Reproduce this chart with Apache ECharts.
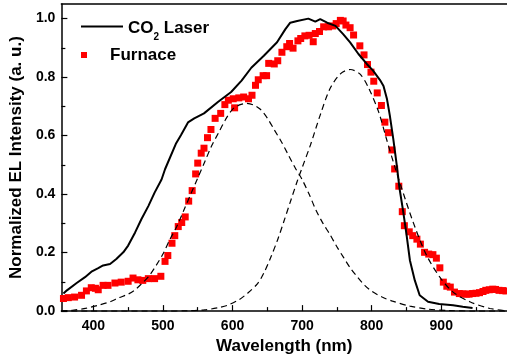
<!DOCTYPE html>
<html><head><meta charset="utf-8">
<script src="https://cdn.jsdelivr.net/npm/echarts@6/dist/echarts.min.js"></script>
<style>html,body{margin:0;padding:0;background:#fff}#c{width:507px;height:360px}</style>
</head><body><div id="c"></div>
<script>
// ---- data (wavelength nm, normalized intensity) ----
var xTickLabels = [400, 500, 600, 700, 800, 900];
var xMinorTicks = [450, 550, 650, 750, 850, 950];
var yTickLabels = [0.0, 0.2, 0.4, 0.6, 0.8, 1.0];
var yMinorTicks = [0.1, 0.3, 0.5, 0.7, 0.9];

var co2Laser = [[357,0.06],[362,0.071],[376,0.096],[388,0.116],[398,0.136],[407,0.147],[414,0.156],[424,0.161],[433,0.178],[443,0.201],[450,0.224],[460,0.269],[469,0.314],[479,0.359],[488,0.405],[498,0.45],[503,0.485],[519,0.574],[526,0.602],[536,0.645],[545,0.659],[559,0.676],[579,0.715],[598,0.749],[613,0.788],[627,0.832],[645,0.873],[664,0.919],[676,0.964],[683,0.986],[693,0.992],[709,1.0],[719,0.99],[726,0.998],[736,0.986],[748,0.975],[759,0.947],[769,0.919],[781,0.879],[793,0.845],[802,0.822],[812,0.79],[817,0.77],[822,0.725],[826,0.67],[831,0.59],[836,0.50],[840,0.42],[845,0.345],[850,0.263],[855,0.173],[862,0.105],[869,0.054],[881,0.032],[897,0.024],[917,0.02],[931,0.015],[945,0.011]];

var furnace = [[357,0.043],[364,0.046],[373,0.048],[383,0.054],[390,0.069],[397,0.08],[403,0.078],[407,0.073],[414,0.088],[421,0.088],[431,0.096],[440,0.099],[450,0.102],[457,0.113],[464,0.107],[471,0.105],[479,0.111],[488,0.111],[497,0.119],[503,0.17],[507,0.19],[513,0.232],[517,0.258],[522,0.289],[527,0.303],[532,0.322],[537,0.376],[542,0.412],[547,0.469],[550,0.506],[555,0.54],[559,0.557],[564,0.593],[569,0.621],[575,0.659],[583,0.676],[589,0.706],[594,0.721],[601,0.726],[603,0.695],[609,0.729],[616,0.732],[623,0.726],[628,0.738],[633,0.772],[637,0.791],[644,0.805],[649,0.805],[652,0.847],[660,0.845],[665,0.856],[671,0.885],[678,0.904],[682,0.915],[687,0.899],[694,0.924],[698,0.932],[704,0.941],[710,0.943],[716,0.921],[719,0.949],[725,0.956],[731,0.972],[738,0.972],[744,0.975],[749,0.983],[755,0.994],[759,0.992],[763,0.978],[769,0.969],[774,0.944],[783,0.907],[789,0.876],[794,0.843],[799,0.817],[803,0.786],[808,0.746],[814,0.703],[819,0.646],[824,0.61],[829,0.551],[833,0.486],[839,0.427],[844,0.34],[847,0.292],[854,0.271],[859,0.258],[865,0.246],[870,0.229],[876,0.201],[882,0.195],[888,0.193],[893,0.181],[898,0.148],[903,0.099],[908,0.085],[913,0.082],[919,0.065],[926,0.06],[931,0.059],[936,0.058],[940,0.058],[945,0.06],[950,0.061],[955,0.063],[960,0.067],[964,0.071],[969,0.073],[974,0.075],[978,0.074],[983,0.071],[988,0.07],[993,0.069]];

var fitPeak1 = [[354,0.0],[370,0.003],[390,0.01],[407,0.02],[425,0.033],[436,0.045],[450,0.058],[460,0.073],[470,0.095],[480,0.12],[490,0.155],[500,0.195],[510,0.245],[520,0.29],[530,0.345],[540,0.40],[550,0.455],[560,0.51],[570,0.565],[580,0.61],[590,0.655],[600,0.69],[610,0.705],[620,0.71],[630,0.705],[640,0.69],[650,0.66],[660,0.62],[670,0.58],[680,0.535],[690,0.49],[700,0.45],[710,0.40],[720,0.345],[730,0.30],[740,0.262],[750,0.22],[760,0.182],[770,0.145],[780,0.115],[790,0.088],[800,0.068],[815,0.048],[830,0.034],[855,0.017],[880,0.007],[910,0.002],[950,0.0],[994,0.0]];

var fitPeak2 = [[354,0.0],[500,0.0],[536,0.001],[560,0.004],[580,0.012],[593,0.02],[610,0.04],[621,0.06],[636,0.094],[645,0.13],[655,0.184],[665,0.245],[674,0.308],[684,0.38],[693,0.444],[700,0.49],[712,0.568],[726,0.67],[740,0.76],[755,0.811],[769,0.826],[783,0.811],[795,0.766],[810,0.681],[821,0.591],[833,0.495],[843,0.421],[859,0.308],[878,0.195],[898,0.116],[917,0.065],[941,0.032],[970,0.009],[994,0.001]];

var FONT = "'Liberation Sans', Arial, sans-serif";
var chart = echarts.init(document.getElementById('c'), null, {renderer: 'canvas'});
var xMin = 354, xMax = 994.5, yMin = 0, yMax = 1.05;

chart.setOption({
  animation: false,
  backgroundColor: '#fff',
  grid: {left: 59, right: 0, top: 4, bottom: 46},
  legend: [
    {
      data: [{name: 'CO2 Laser', icon: 'path://M0,0L42,0L42,2L0,2Z'}],
      left: 81, top: 16, padding: 0,
      itemWidth: 42, itemHeight: 14,
      formatter: function () { return '{a|CO}{s|2}{a| Laser}'; },
      textStyle: {
        rich: {
          a: {fontFamily: FONT, fontWeight: 'bold', fontSize: 17, color: '#000', lineHeight: 32, padding: [4, 0, 0, 0]},
          s: {fontFamily: FONT, fontWeight: 'bold', fontSize: 10, color: '#000', lineHeight: 6, verticalAlign: 'bottom'}
        }
      }
    },
    {
      data: [{name: 'Furnace', icon: 'path://M0,0L10,0L10,10L0,10Z'}],
      left: 81, top: 45, padding: 0,
      itemWidth: 42, itemHeight: 6,
      textStyle: {fontFamily: FONT, fontWeight: 'bold', fontSize: 17, color: '#000', lineHeight: 20}
    }
  ],
  xAxis: [
    {
      type: 'value', min: xMin, max: xMax, position: 'bottom',
      name: 'Wavelength (nm)', nameLocation: 'middle', nameGap: 20,
      nameTextStyle: {fontFamily: FONT, fontWeight: 'bold', fontSize: 17, color: '#000'},
      axisLine: {show: true, lineStyle: {color: '#000', width: 1.5}},
      axisTick: {show: true, inside: true, length: 6, customValues: xTickLabels, lineStyle: {color: '#000', width: 1.2}},
      axisLabel: {show: true, customValues: xTickLabels, margin: 8, fontFamily: FONT, fontWeight: 'bold', fontSize: 14, color: '#000'},
      splitLine: {show: false}
    },
    {
      type: 'value', min: xMin, max: xMax, position: 'bottom',
      axisLine: {show: false},
      axisTick: {show: true, inside: true, length: 4, customValues: xMinorTicks, lineStyle: {color: '#000', width: 1.2}},
      axisLabel: {show: false},
      splitLine: {show: false}
    },
    {
      type: 'value', min: xMin, max: xMax, position: 'top',
      axisLine: {show: true, lineStyle: {color: '#000', width: 1.5}},
      axisTick: {show: false}, axisLabel: {show: false}, splitLine: {show: false}
    }
  ],
  yAxis: [
    {
      type: 'value', min: yMin, max: yMax, position: 'left',
      name: 'Normalized EL Intensity (a. u.)', nameLocation: 'middle', nameGap: 34,
      nameTextStyle: {fontFamily: FONT, fontWeight: 'bold', fontSize: 17, color: '#000'},
      axisLine: {show: true, lineStyle: {color: '#000', width: 1.5}},
      axisTick: {show: true, inside: true, length: 6, customValues: yTickLabels, lineStyle: {color: '#000', width: 1.2}},
      axisLabel: {show: true, customValues: yTickLabels, margin: 6, fontFamily: FONT, fontWeight: 'bold', fontSize: 14, color: '#000',
        formatter: function (v) { return v.toFixed(1); }},
      splitLine: {show: false}
    },
    {
      type: 'value', min: yMin, max: yMax, position: 'left',
      axisLine: {show: false},
      axisTick: {show: true, inside: true, length: 4, customValues: yMinorTicks, lineStyle: {color: '#000', width: 1.2}},
      axisLabel: {show: false}, splitLine: {show: false}
    }
  ],
  series: [
    {
      name: 'Furnace', type: 'scatter', xAxisIndex: 0, yAxisIndex: 0,
      data: furnace, symbol: 'rect', symbolSize: 7,
      itemStyle: {color: '#ff0000', opacity: 1}
    },
    {
      name: 'CO2 Laser', type: 'line', xAxisIndex: 0, yAxisIndex: 0,
      data: co2Laser, showSymbol: false, symbol: 'none', smooth: false,
      lineStyle: {color: '#000', width: 2}, itemStyle: {color: '#000'}
    },
    {
      name: 'Peak 1', type: 'line', xAxisIndex: 0, yAxisIndex: 0,
      data: fitPeak1, showSymbol: false, symbol: 'none', smooth: 0.3,
      lineStyle: {color: '#000', width: 1.2, type: [6, 4]}
    },
    {
      name: 'Peak 2', type: 'line', xAxisIndex: 0, yAxisIndex: 0,
      data: fitPeak2, showSymbol: false, symbol: 'none', smooth: 0.3,
      lineStyle: {color: '#000', width: 1.2, type: [6, 4]}
    }
  ]
});
</script></body></html>
